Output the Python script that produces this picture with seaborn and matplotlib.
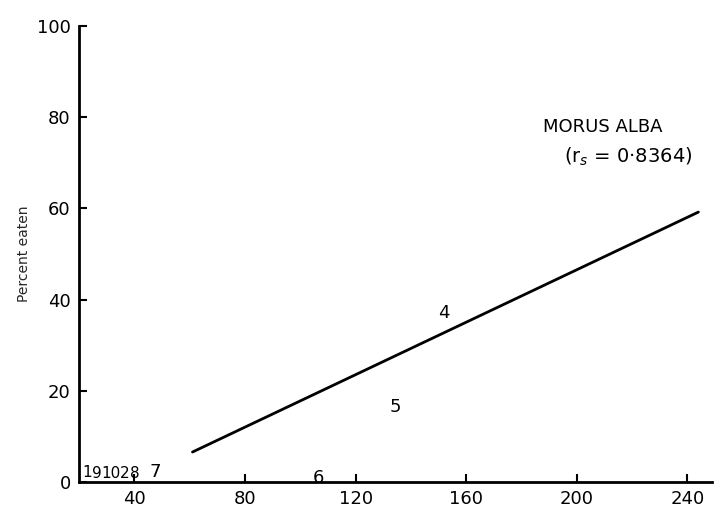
import matplotlib
matplotlib.use("Agg")
import matplotlib.pyplot as plt
import seaborn as sns
import pandas as pd

# Fitted line (endpoints)
line_x = [61, 244]
line_y = [6.6, 59.2]

# Point labels (sample numbers) and their positions
point_labels = ["1", "9", "10", "2", "8", "7", "6", "5", "4"]
point_x = [23.0, 26.5, 31.6, 36.3, 40.0, 47.5, 106.5, 134.5, 152.0]
point_y = [2.2, 2.0, 2.0, 2.0, 2.0, 2.2, 1.0, 16.5, 37.0]

x_ticks = [40, 80, 120, 160, 200, 240]
y_ticks = [0, 20, 40, 60, 80, 100]

species = "MORUS ALBA"
stat_text = "(r$_s$ = 0·8364)"
y_label = "Percent eaten"

sns.set_theme(style="ticks")
plt.rcParams['font.family'] = ['DejaVu Sans']

fig = plt.figure(figsize=(7.26, 5.19), dpi=100)
ax = fig.add_axes([0.109, 0.071, 0.872, 0.879])

df = pd.DataFrame({"x": line_x, "y": line_y})
sns.lineplot(data=df, x="x", y="y", ax=ax, color="black", linewidth=2)

for lab, px, py in zip(point_labels, point_x, point_y):
    fs = 11 if px < 45 else 13
    ax.text(px, py, lab, fontsize=fs, ha="center", va="center", color="black")

ax.set_xlim(20, 249)
ax.set_ylim(0, 100)
ax.set_xticks(x_ticks)
ax.set_yticks(y_ticks)
ax.set_xlabel("")
ax.set_ylabel(y_label, fontsize=10, labelpad=4)
sns.despine(ax=ax)
for sp in ["left", "bottom"]:
    ax.spines[sp].set_linewidth(2)
    ax.spines[sp].set_color("black")
ax.tick_params(axis="both", direction="in", length=6, width=1.5,
               labelsize=13, colors="black")
ax.tick_params(axis="x", pad=6)
ax.tick_params(axis="y", pad=6)

ax.text(0.748, 0.745, species, transform=fig.transFigure, fontsize=13, color="black")
ax.text(0.777, 0.686, stat_text, transform=fig.transFigure, fontsize=14, color="black")

fig.savefig("out.png", dpi=100, facecolor="white")
